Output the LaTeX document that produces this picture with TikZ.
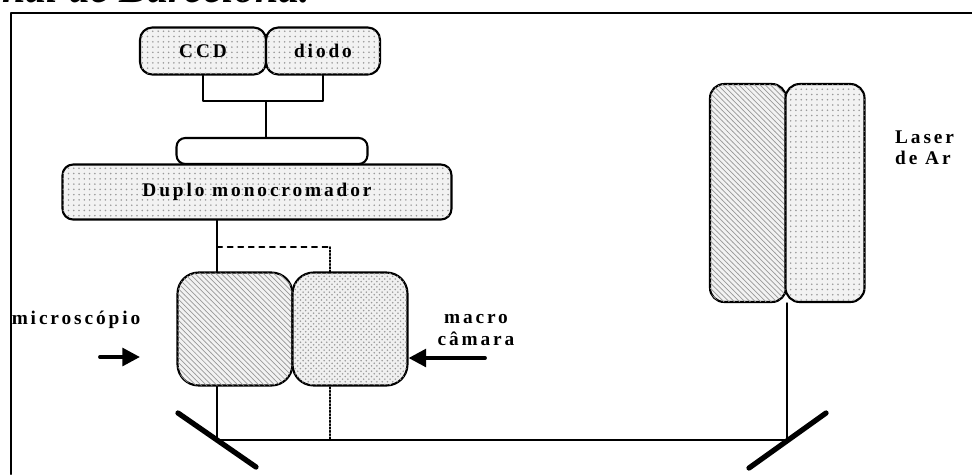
\documentclass[tikz,border=0pt]{standalone}
\usepackage{fontspec}
\setmainfont{Liberation Serif}
\newfontfamily\spc[LetterSpace=15]{Liberation Serif}
\usetikzlibrary{patterns,arrows.meta}

\begin{document}
\begin{tikzpicture}[x=0.02cm, y=-0.02cm, font=\spc\bfseries\fontsize{11}{12}\selectfont, line join=round, line cap=round,
	dotbox/.style={draw, line width=1.2pt, inner sep=0pt, fill=gray!10, postaction={pattern=dots, pattern color=gray!80}},
	gridbox/.style={draw, line width=1.2pt, inner sep=0pt, fill=gray!12, postaction={pattern=crosshatch dots, pattern color=gray!80}},
	hatchbox/.style={draw, line width=1.2pt, inner sep=0pt, fill=gray!10, postaction={pattern=north west lines, pattern color=gray!80}},
	ray/.style={line width=0.9pt},
	mirror/.style={line width=3pt},
	push/.style={line width=2.2pt, -{Triangle[length=10pt,width=10pt]}}]
	\useasboundingbox (0,0) rectangle (972,474);
	\node[anchor=base west, font=\bfseries\itshape\fontsize{24}{26}\selectfont] (head) at (-4,2) {nal de Barcelona.};
	\draw[line width=1.2pt] (11,474) -- (11,13) -- (972,13);
	\path (266,101) coordinate (jn) (217,440) coordinate (mL) (787,440) coordinate (mR) (330,247) coordinate (dk)
		(100,357) coordinate (mic) (140,357) coordinate (mic2) (485,358) coordinate (cam);
	% light path
	\draw[ray] (mL) -- (mR);
	\draw[ray, dashed] (dk -| mL) -- (dk);
	\draw[ray, densely dotted] (dk) -- (dk |- mL);
	% boxes
	\node[dotbox, rounded corners=7pt, minimum width=2.52cm, minimum height=0.94cm] (ccd) at (203,51) {CCD};
	\node[dotbox, rounded corners=7pt, minimum width=2.28cm, minimum height=0.94cm] (diodo) at (323,51) {diodo};
	\node[draw, line width=1.2pt, rounded corners=5pt, minimum width=3.82cm, minimum height=0.52cm] (slit) at (272,151) {};
	\node[dotbox, rounded corners=6pt, minimum width=7.78cm, minimum height=1.1cm] (mono) at (257,192) {Duplo monocromador};
	\node[hatchbox, rounded corners=12pt, minimum width=2.3cm, minimum height=2.26cm] (micro) at (235,329) {};
	\node[gridbox, rounded corners=12pt, minimum width=2.3cm, minimum height=2.26cm] (macro) at (350,329) {};
	\node[hatchbox, rounded corners=8pt, minimum width=1.52cm, minimum height=4.36cm] (laserL) at (748,193) {};
	\node[dotbox, rounded corners=8pt, minimum width=1.58cm, minimum height=4.36cm] (laserR) at (825,193) {};
	\draw[ray] (ccd.south) |- (jn) -| (diodo.south);
	\draw[ray] (jn) -- (jn |- slit.north);
	\draw[ray] (mono.south -| mL) -- (micro.north -| mL) (micro.south -| mL) -- (mL);
	\draw[ray] (mR) -- (mR |- laserL.south);
	\draw[mirror] ([shift={(-39,-27)}]mL) -- ([shift={(39,27)}]mL);
	\draw[mirror] ([shift={(-38,28)}]mR) -- ([shift={(39,-27)}]mR);
	\draw[push] (mic) -- (mic2);
	\draw[push] (cam) -- (cam -| macro.east);
	\node (micLbl) at (76,320) {microscópio};
	\node[align=center] (camLbl) at (476,330) {macro\\câmara};
	\node[align=left, anchor=west] (arLbl) at (889,148) {Laser\\de Ar};
\end{tikzpicture}
\end{document}
